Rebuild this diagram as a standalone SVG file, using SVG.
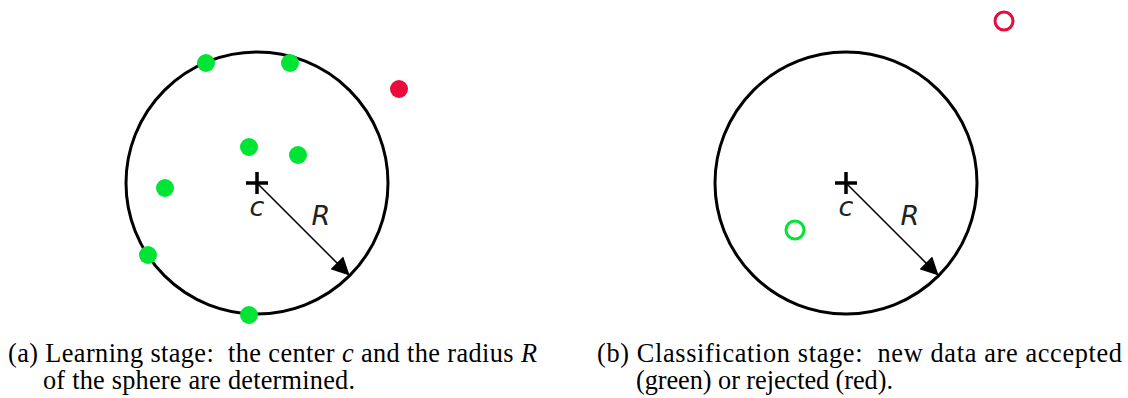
<svg xmlns="http://www.w3.org/2000/svg" width="1128" height="398" viewBox="0 0 1128 398">
<style>
.sphere{fill:none;stroke:#000;stroke-width:3}
.g{fill:#00e436}
.r{fill:#ea0a3c}
.go{fill:none;stroke:#00e436;stroke-width:3}
.ro{fill:none;stroke:#ea0a3c;stroke-width:3}
.cross{stroke:#000;stroke-width:3.5}
.rad{stroke:#000;stroke-width:1.5;marker-end:url(#ah)}
.lbl{font-family:"DejaVu Sans",sans-serif;font-style:oblique;font-size:27px;fill:#222}
.cap{font-family:"Liberation Serif",serif;font-size:26.3px;fill:#000}
</style>
<defs>
<marker id="ah" viewBox="0 0 10 10" refX="10" refY="5" markerWidth="22" markerHeight="18" markerUnits="userSpaceOnUse" orient="auto">
<path d="M0,0 L10,5 L0,10 z" fill="#000"/>
</marker>
</defs>
<g id="panel-a">
<circle class="sphere" cx="257" cy="183" r="131"/>
<g id="center-a"><line class="cross" x1="246" y1="183" x2="268" y2="183"/><line class="cross" x1="257" y1="172" x2="257" y2="194"/></g>
<g id="points-a">
<circle class="g" cx="206" cy="63" r="9"/>
<circle class="g" cx="290" cy="63" r="9"/>
<circle class="g" cx="249" cy="147" r="9"/>
<circle class="g" cx="298" cy="155" r="9"/>
<circle class="g" cx="165" cy="188" r="9"/>
<circle class="g" cx="148" cy="255" r="9"/>
<circle class="g" cx="249" cy="315" r="9"/>
<circle class="r" cx="399" cy="89" r="9"/>
</g>
<text class="lbl" x="257" y="216" text-anchor="middle">c</text>
<text class="lbl" x="321" y="225" text-anchor="middle">R</text>
</g>
<g id="panel-b">
<circle class="sphere" cx="846" cy="183" r="131"/>
<g id="center-b"><line class="cross" x1="835" y1="183" x2="857" y2="183"/><line class="cross" x1="846" y1="172" x2="846" y2="194"/></g>
<g id="points-b">
<circle class="go" cx="795" cy="230" r="9"/>
<circle class="ro" cx="1004" cy="21" r="9"/>
</g>
<text class="lbl" x="846" y="216" text-anchor="middle">c</text>
<text class="lbl" x="910" y="225" text-anchor="middle">R</text>
</g>
<g id="connectors">
<line class="rad" x1="257" y1="183" x2="349.6" y2="275.6"/>
<line class="rad" x1="846" y1="183" x2="938.6" y2="275.6"/>
</g>
<g id="captions">
<text class="cap" x="8" y="362" textLength="529" lengthAdjust="spacing" xml:space="preserve">(a) Learning stage:  the center <tspan font-style="italic">c</tspan> and the radius <tspan font-style="italic">R</tspan></text>
<text class="cap" x="43" y="389" textLength="312" lengthAdjust="spacing">of the sphere are determined.</text>
<text class="cap" x="597" y="362" textLength="525" lengthAdjust="spacing" xml:space="preserve">(b) Classification stage:  new data are accepted</text>
<text class="cap" x="636" y="389" textLength="257" lengthAdjust="spacing">(green) or rejected (red).</text>
</g>
</svg>
